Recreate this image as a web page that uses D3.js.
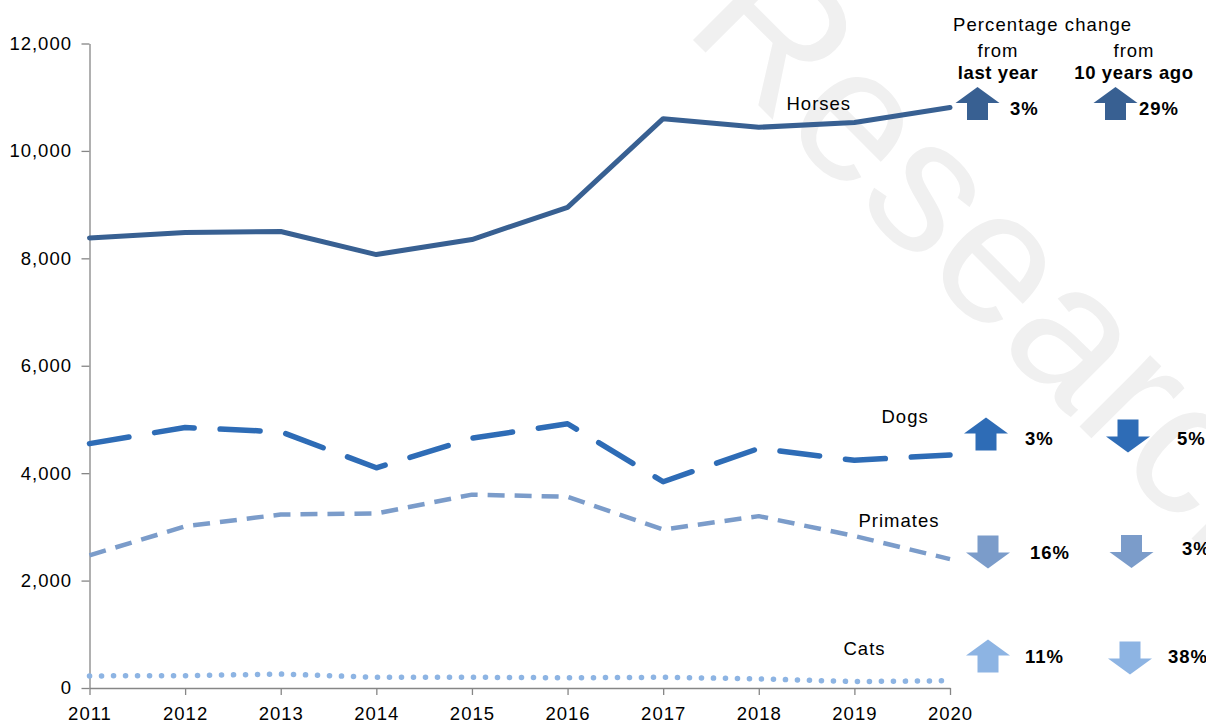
<!DOCTYPE html>
<html>
<head>
<meta charset="utf-8">
<script src="https://cdn.jsdelivr.net/npm/d3@7/dist/d3.min.js"></script>
<style>
  html, body { margin: 0; padding: 0; background: #ffffff; }
  svg { display: block; font-family: "Liberation Sans", Arial, sans-serif; }
</style>
</head>
<body>
<svg id="chart" width="1206" height="724"></svg>
<script>
// ---- data ----
const years = [2011, 2012, 2013, 2014, 2015, 2016, 2017, 2018, 2019, 2020];
const horses   = [8380, 8480, 8500, 8070, 8350, 8950, 10600, 10440, 10530, 10810];
const dogs     = [4550, 4850, 4770, 4100, 4650, 4920, 3840, 4460, 4240, 4340];
const primates = [2470, 3010, 3230, 3250, 3600, 3560, 2950, 3200, 2830, 2400];
const cats     = [225, 230, 260, 200, 200, 190, 200, 170, 120, 135];
const seriesNames = ["Horses", "Dogs", "Primates", "Cats"];
const yTicks = [0, 2000, 4000, 6000, 8000, 10000, 12000];
const changeLastYear = [3, 3, -16, 11];
const changeTenYears = [29, -5, -3, -38];
const headerLines = ["Percentage change"];
const subHeaders = [["from", "last year"], ["from", "10 years ago"]];
const watermark = "Research";

// ---- layout / styles ----
const svg = d3.select("#chart");
const x = d3.scalePoint().domain(years).range([89.5, 950]);
const y = d3.scaleLinear().domain([0, 12000]).range([688, 43.5]);

const styles = [
  { color: "#386092", width: 5,   dash: null,     cap: "round" },
  { color: "#2e6cb6", width: 5.5, dash: "40,26",  cap: "round" },
  { color: "#7b9cca", width: 4.5, dash: "17,10",  cap: "butt" },
  { color: "#8db4e3", width: 5.5, dash: "0.1,11.9", cap: "round" }
];
const labelPos = [
  { x: 786.5, y: 110 }, { x: 881.5, y: 423 }, { x: 858.5, y: 527 }, { x: 843.5, y: 655 }
];
// arrow geometry per row: [left col cx, cy], [right col cx, cy]
const arrowPos = [
  [[977.5, 103.5], [1115.5, 103.5]],
  [[986, 434], [1128, 436]],
  [[988, 552], [1131.5, 551.5]],
  [[988, 656], [1130, 658]]
];
const textPos = [
  [[1010, 115], [1139, 115]],
  [[1025, 445], [1177, 445]],
  [[1030, 559], [1182, 555]],
  [[1025, 663], [1168, 663]]
];
const arrowColors = ["#386092", "#2e6cb6", "#7b9cca", "#8db4e3"];

// ---- watermark ----
svg.append("text")
  .attr("transform", "translate(682,29) rotate(45)")
  .attr("font-size", 190)
  .attr("fill", "#f0f0f0")
  .text(watermark);

// ---- axes ----
const yAxis = d3.axisLeft(y).tickValues(yTicks).tickSize(8).tickSizeOuter(0)
  .tickPadding(9.5).tickFormat(d3.format(","));
const gy = svg.append("g").attr("transform", "translate(89.5,0)").call(yAxis);
const xAxis = d3.axisBottom(x).tickSize(7).tickSizeOuter(0).tickPadding(12).tickFormat(d3.format("d"));
const gx = svg.append("g").attr("transform", "translate(0,688)").call(xAxis);
[gx, gy].forEach(g => {
  g.selectAll("path,line").attr("stroke", "#868686").attr("stroke-width", 1.3);
  g.selectAll("text").attr("font-size", 18.5).attr("fill", "#000")
    .attr("letter-spacing", 1).style("font-family", '"Liberation Sans", Arial, sans-serif');
});

// ---- lines ----
const data = [horses, dogs, primates, cats];
const line = d3.line().x((d, i) => x(years[i])).y(d => y(d));
data.forEach((vals, k) => {
  const s = styles[k];
  svg.append("path")
    .attr("d", line(vals))
    .attr("fill", "none")
    .attr("stroke", s.color)
    .attr("stroke-width", s.width)
    .attr("stroke-linejoin", "round")
    .attr("stroke-linecap", s.cap)
    .attr("stroke-dasharray", s.dash);
  svg.append("text")
    .attr("x", labelPos[k].x).attr("y", labelPos[k].y)
    .attr("font-size", 18.5).attr("letter-spacing", 1)
    .text(seriesNames[k]);
});

// ---- header ----
svg.append("text").attr("x", 953).attr("y", 30.5)
  .attr("font-size", 18.5).attr("letter-spacing", 1.1).text(headerLines[0]);
const subX = [998, 1134];
subHeaders.forEach((lines, c) => {
  svg.append("text").attr("x", subX[c]).attr("y", 56.5).attr("text-anchor", "middle")
    .attr("font-size", 18.5).attr("letter-spacing", 1).text(lines[0]);
  svg.append("text").attr("x", subX[c]).attr("y", 78.5).attr("text-anchor", "middle")
    .attr("font-size", 18.5).attr("font-weight", "bold").attr("letter-spacing", 0.6).text(lines[1]);
});

// ---- arrows ----
function arrowPath(cx, cy, up) {
  const w = 44, sw = 21, h = 33, hh = 16;
  const top = cy - h / 2, bot = cy + h / 2;
  if (up) {
    return `M${cx},${top} L${cx + w / 2},${top + hh} L${cx + sw / 2},${top + hh} L${cx + sw / 2},${bot} ` +
           `L${cx - sw / 2},${bot} L${cx - sw / 2},${top + hh} L${cx - w / 2},${top + hh} Z`;
  }
  return `M${cx},${bot} L${cx + w / 2},${bot - hh} L${cx + sw / 2},${bot - hh} L${cx + sw / 2},${top} ` +
         `L${cx - sw / 2},${top} L${cx - sw / 2},${bot - hh} L${cx - w / 2},${bot - hh} Z`;
}
[changeLastYear, changeTenYears].forEach((vals, c) => {
  vals.forEach((v, r) => {
    svg.append("path")
      .attr("d", arrowPath(arrowPos[r][c][0], arrowPos[r][c][1], v > 0))
      .attr("fill", arrowColors[r]);
    svg.append("text")
      .attr("x", textPos[r][c][0]).attr("y", textPos[r][c][1])
      .attr("font-size", 18.5).attr("font-weight", "bold").attr("letter-spacing", 1)
      .text(Math.abs(v) + "%");
  });
});
</script>
</body>
</html>
